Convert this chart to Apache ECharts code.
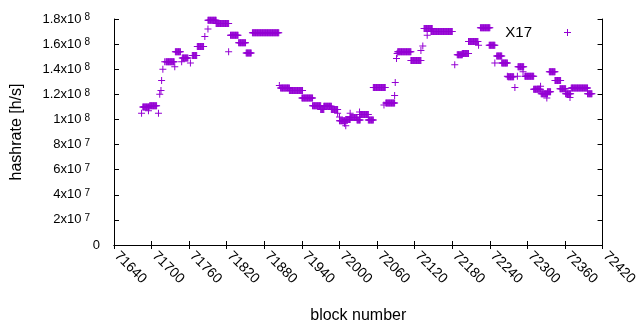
<!DOCTYPE html>
<html>
<head>
<meta charset="utf-8">
<script src="https://cdn.jsdelivr.net/npm/echarts@6/dist/echarts.min.js"></script>
<style>
    html, body {margin: 0; padding: 0; background: #fff;}
    #hashrate {width: 640px; height: 330px;}
</style>
</head>
<body>
<div id="hashrate"></div>
<script>
// runs of blocks with the same hashrate (a single point has start == end)
var runStart = [71684, 71686, 71695, 71697, 71711, 71713, 71715, 71716, 71718, 71721,
    71723, 71737, 71738, 71748, 71749, 71762, 71765, 71773, 71785, 71790,
    71790, 71803, 71823, 71826, 71839, 71851, 71861, 71904, 71906, 71920,
    71940, 71957, 71970, 71975, 71987, 71997, 72000, 72000, 72008, 72010,
    72010, 72017, 72017, 72028, 72032, 72032, 72046, 72054, 72071, 72074,
    72088, 72089, 72091, 72092, 72093, 72114, 72130, 72133, 72140, 72135,
    72146, 72184, 72188, 72196, 72206, 72222, 72225, 72239, 72248, 72251,
    72259, 72268, 72269, 72280, 72284, 72285, 72293, 72296, 72310, 72321,
    72322, 72331, 72332, 72335, 72344, 72352, 72361, 72368, 72370, 72396];
var runEnd = [71684, 71696, 71695, 71708, 71711, 71713, 71715, 71716, 71718, 71721,
    71736, 71737, 71746, 71748, 71758, 71762, 71772, 71783, 71785, 71790,
    71803, 71823, 71823, 71838, 71850, 71859, 71903, 71904, 71920, 71941,
    71957, 71970, 71975, 71987, 71997, 71997, 72000, 72009, 72008, 72010,
    72017, 72017, 72028, 72033, 72032, 72046, 72054, 72073, 72071, 72088,
    72088, 72089, 72091, 72092, 72114, 72130, 72130, 72133, 72140, 72148,
    72180, 72184, 72196, 72206, 72221, 72222, 72240, 72248, 72248, 72259,
    72268, 72268, 72278, 72280, 72284, 72294, 72293, 72310, 72321, 72321,
    72332, 72331, 72337, 72344, 72353, 72361, 72369, 72368, 72396, 72403];
// hashrate in units of 1e6 h/s
var runRate = [105, 110, 107, 111, 105, 120, 123, 131, 140, 146,
    146, 142, 154, 146, 149, 145, 151, 158, 166, 172,
    179, 176.5, 154, 167, 161, 153, 169, 127, 125, 123,
    117, 111, 108, 110.5, 108, 105, 102, 99, 97, 95,
    100, 105, 101.5, 99.5, 106, 104, 99.5, 125.5, 111.5, 113,
    119, 129.5, 148.5, 152.5, 154, 147, 155, 158.5, 167, 172.5,
    170, 143.5, 151.5, 152.5, 162, 159, 173, 159, 145, 150.5,
    145, 134.5, 134, 125.5, 134.5, 142, 138, 134.5, 124, 126.5,
    120.5, 117, 122, 138, 131, 124.5, 120.5, 117.5, 125, 120.5];

var xMin = 71640, xMax = 72420, xStep = 60;
var yMin = 0, yMax = 180000000, yStep = 20000000;
var seriesName = 'X17';

var plusPath = 'path://M0,3H7V4H0Z M3,0H4V7H3Z';
var fontName = "'Liberation Sans', Arial, sans-serif";

function buildPoints() {
    var pts = [];
    for (var i = 0; i < runStart.length; i++) {
        for (var b = runStart[i]; b <= runEnd[i]; b++) {
            pts.push([b, runRate[i] * 1e6]);
        }
    }
    return pts;
}

// gnuplot style "1.8x10^8", the exponent labels end a bit left of "0"
function yLabel(value) {
    if (value == 0) {
        return '{m|0}';
    }
    var e = Math.floor(Math.log10(value) + 1e-9);
    var m = Math.round(value / Math.pow(10, e) * 10) / 10;
    return '{m|' + m + 'x10}{e|' + e + '}{p|0}';
}

var chart = echarts.init(document.getElementById('hashrate'));
var option = {
    animation: false,
    backgroundColor: '#fff',
    grid: {left: 114, right: 31, top: 19, bottom: 85},
    legend: {
        data: [{name: seriesName, icon: plusPath}],
        right: 64,
        top: 20,
        align: 'right',
        itemWidth: 61,
        itemHeight: 7,
        textStyle: {fontFamily: fontName, fontSize: 15, color: '#000'}
    },
    xAxis: [
        {
            type: 'value',
            min: xMin, max: xMax, interval: xStep,
            name: 'block number',
            nameLocation: 'middle',
            nameGap: 63,
            nameTextStyle: {fontFamily: fontName, fontSize: 16, color: '#000'},
            axisLine: {lineStyle: {color: '#000', width: 1}},
            axisTick: {inside: true, length: 4, lineStyle: {color: '#000'}},
            axisLabel: {
                rotate: -45,
                margin: 6,
                padding: [0, 0, 0, 4],
                formatter: function (value) {
                    return String(value);
                },
                fontFamily: fontName, fontSize: 14, color: '#000',
                showMinLabel: true, showMaxLabel: true
            },
            splitLine: {show: false}
        },
        {
            type: 'value',
            position: 'top',
            min: xMin, max: xMax, interval: xStep,
            axisLine: {lineStyle: {color: '#000', width: 1}},
            axisTick: {inside: true, length: 4, lineStyle: {color: '#000'}},
            axisLabel: {show: false},
            splitLine: {show: false}
        }
    ],
    yAxis: [
        {
            type: 'value',
            min: yMin, max: yMax, interval: yStep,
            name: 'hashrate [h/s]',
            nameLocation: 'middle',
            nameRotate: 90,
            nameGap: 89,
            nameTextStyle: {fontFamily: fontName, fontSize: 16, color: '#000'},
            axisLine: {show: true, lineStyle: {color: '#000', width: 1}},
            axisTick: {inside: true, length: 5, lineStyle: {color: '#000'}},
            axisLabel: {
                margin: 14,
                formatter: yLabel,
                rich: {
                    m: {fontFamily: fontName, fontSize: 13, color: '#000', lineHeight: 13, verticalAlign: 'bottom'},
                    e: {fontFamily: fontName, fontSize: 10, color: '#000', lineHeight: 10, verticalAlign: 'top',
                        padding: [0, 0, 5, 3]},
                    // invisible filler that keeps the exponent off the right edge
                    p: {fontFamily: fontName, fontSize: 13, lineHeight: 13, width: 10, color: 'rgba(0,0,0,0)'}
                }
            },
            splitLine: {show: false}
        },
        {
            type: 'value',
            position: 'right',
            min: yMin, max: yMax, interval: yStep,
            axisLine: {show: true, lineStyle: {color: '#000', width: 1}},
            axisTick: {inside: true, length: 5, lineStyle: {color: '#000'}},
            axisLabel: {show: false},
            splitLine: {show: false}
        }
    ],
    series: [
        {
            name: seriesName,
            type: 'scatter',
            symbol: plusPath,
            symbolSize: 7,
            itemStyle: {color: '#9400d3', opacity: 1},
            data: buildPoints()
        }
    ]
};
chart.setOption(option);
</script>
</body>
</html>
